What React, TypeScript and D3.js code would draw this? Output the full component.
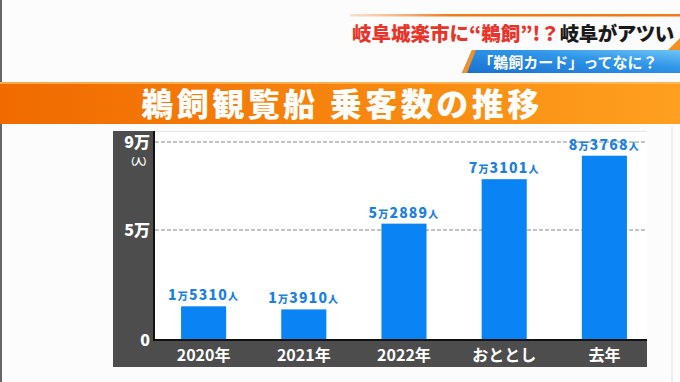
import React from "react";
import * as d3 from "d3";

const categories = ["2020年", "2021年", "2022年", "おととし", "去年"];
const values = [15310, 13910, 52889, 73101, 83768];
const yTicks = [0, 50000, 90000];
const yTickLabels = ["0", "5万", "9万"];
const gridTicks = [50000, 90000];
const title = "鵜飼観覧船 乗客数の推移";
const headRed = "岐阜城楽市に“鵜飼”!？";
const headBlack = "岐阜がアツい";
const bannerText = "「鵜飼カード」ってなに？";
const unitLabel = "（人）";

const W = 680, H = 382;
const panelL = 113, panelR = 647, panelT = 131, panelB = 367;
const plotL = 155, plotR = 647, plotB = 340, plotTopVal = 142;
const font = "'Noto Sans CJK JP', 'Noto Sans', sans-serif";

export default function App() {
  const x = d3.scaleBand<string>().domain(categories).range([151, 657]).paddingInner(0.55).paddingOuter(0.3);
  const y = d3.scaleLinear().domain([0, 90000]).range([plotB, plotTopVal]);
  const split = (v: number) => [String(Math.floor(v / 10000)), String(v % 10000).padStart(4, "0")];

  return (
    <svg width={W} height={H} style={{ position: "absolute", left: 0, top: 0 }} fontFamily={font}>
      <defs>
        <linearGradient id="og" x1="0" x2="1" y1="0" y2="0">
          <stop offset="0" stopColor="#f06a00" />
          <stop offset="0.6" stopColor="#f88a10" />
          <stop offset="1" stopColor="#ffa020" />
        </linearGradient>
        <linearGradient id="ol" x1="0" x2="1">
          <stop offset="0" stopColor="#f5a060" stopOpacity="0.3" />
          <stop offset="0.3" stopColor="#f07a20" />
          <stop offset="1" stopColor="#f07a20" />
        </linearGradient>
        <linearGradient id="bg" x1="0" x2="1" y1="1" y2="0">
          <stop offset="0" stopColor="#1a6fd0" />
          <stop offset="0.6" stopColor="#2f95e8" />
          <stop offset="1" stopColor="#6ec4f5" />
        </linearGradient>
      </defs>
      <rect x={0} y={0} width={W} height={H} fill="#fcfcfc" />
      <rect x={0} y={0} width={2} height={H} fill="#666" />
      {/* header */}
      <rect x={350} y={14} width={330} height={2.5} fill="url(#ol)" />
      <text x={352} y={41} fontSize={19.5} fontWeight={900} fill="#e8342a" letterSpacing={0}>
        {headRed}
        <tspan fill="#1a1a1a" letterSpacing={-0.5}>{headBlack}</tspan>
      </text>
      <polygon points="462,73 472,50 680,50 680,73" fill="url(#bg)" />
      <polygon points="462,73 472,50 476,50 467,73" fill="#f39020" />
      <polygon points="668,50 680,38 680,50" fill="#f39020" />
      <text x={568} y={67.5} fontSize={15} fontWeight={700} fill="#fff" textAnchor="middle">{bannerText}</text>
      {/* title bar */}
      <rect x={0} y={82} width={W} height={42} fill="url(#og)" />
      <rect x={0} y={82} width={W} height={2} fill="#ffc070" opacity={0.7} />
      <text x={342} y={116} fontSize={32} fontWeight={900} fill="#fff" textAnchor="middle" letterSpacing={3.5}>{title}</text>
      {/* panel */}
      <rect x={panelL} y={panelT} width={panelR - panelL} height={panelB - panelT} fill="#4d4d4d" />
      <rect x={plotL} y={panelT} width={plotR - plotL} height={plotB - panelT} fill="#ffffff" />
      <line x1={plotL} x2={plotR} y1={panelT + 0.5} y2={panelT + 0.5} stroke="#e6e6e6" />
      <line x1={672} x2={672} y1={126} y2={H} stroke="#e2e2e2" />
      {gridTicks.map((t) => (
        <line key={t} x1={plotL} x2={plotR} y1={y(t)} y2={y(t)} stroke="#888" strokeDasharray="4,2" strokeWidth={1} />
      ))}
      {categories.map((c, i) => (
        <rect key={c} x={x(c)} y={y(values[i])} width={x.bandwidth()} height={plotB - y(values[i])} fill="#0a84f5" />
      ))}
      <line x1={plotL - 1} x2={plotL - 1} y1={panelT} y2={plotB + 1} stroke="#111" strokeWidth={2} />
      <line x1={plotL - 2} x2={plotR} y1={plotB} y2={plotB} stroke="#111" strokeWidth={2} />
      {categories.map((c, i) => {
        const [m, r] = split(values[i]);
        return (
          <text key={c + "l"} x={(x(c) as number) + x.bandwidth() / 2} y={y(values[i]) - 6} textAnchor="middle" fill="#1b80e0" fontWeight={900} fontSize={14} letterSpacing={1.2}>
            {m}<tspan fontSize={10}>万</tspan>{r}<tspan fontSize={10}>人</tspan>
          </text>
        );
      })}
      {categories.map((c) => (
        <text key={c + "x"} x={(x(c) as number) + x.bandwidth() / 2} y={361} textAnchor="middle" fill="#fff" fontWeight={700} fontSize={16}>{c}</text>
      ))}
      {yTicks.map((t, i) => (
        <text key={t} x={150} y={y(t) + 6} textAnchor="end" fill="#fff" fontWeight={900} fontSize={16}>{yTickLabels[i]}</text>
      ))}
      <text x={151} y={165} textAnchor="end" fill="#fff" fontWeight={700} fontSize={9.5} letterSpacing={-1}>{unitLabel}</text>
    </svg>
  );
}
